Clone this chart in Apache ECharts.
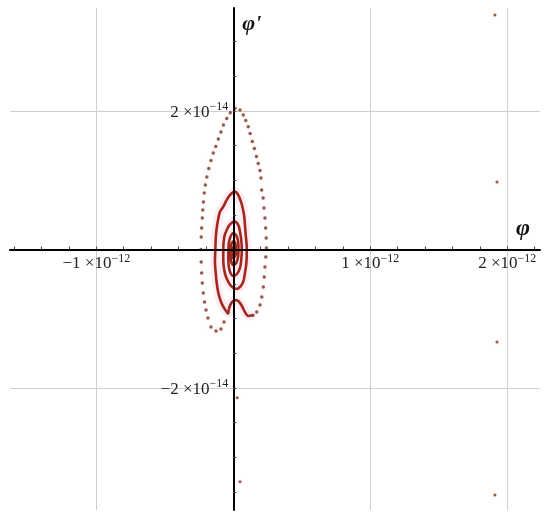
<!DOCTYPE html>
<html>
<head>
<meta charset="utf-8">
<style>
  html, body { margin: 0; padding: 0; background: #fff; }
  #chart { width: 550px; height: 516px; }
</style>
</head>
<body>
<div id="chart"></div>
<script src="https://cdn.jsdelivr.net/npm/echarts@6/dist/echarts.min.js"></script>
<script>
// phase portrait: φ in units of 1e-12, φ' in units of 1e-14

// outer, fast part of the trajectory (loose dots)
const outerX = [-0.039, -0.068, -0.090, -0.126, -0.163, -0.185, -0.199, -0.210, -0.219, -0.226,
  -0.231, -0.234, -0.236, -0.234, -0.231, -0.226, -0.223, -0.218, -0.212, -0.204,
  -0.193, -0.179, -0.163, -0.146, -0.128, -0.109, -0.090, -0.072, -0.048, -0.022,
  0.012, 0.049, 0.073, 0.091, 0.109, 0.123, 0.139, 0.154, 0.169, 0.182,
  0.195, 0.202, 0.207, 0.218, 0.224, 0.231, 0.236, 0.240, 0.242, 0.237,
  0.231, 0.226, 0.219, 0.208, 0.195, 0.171, 0.144]
const outerY = [-0.917, -1.047, -1.148, -1.177, -1.119, -0.989, -0.874, -0.758, -0.628, -0.484,
  -0.339, -0.181, 0, 0.181, 0.310, 0.455, 0.570, 0.686, 0.816, 0.931,
  1.047, 1.170, 1.285, 1.394, 1.487, 1.596, 1.697, 1.798, 1.892, 1.974,
  2.039, 2.014, 1.942, 1.863, 1.773, 1.675, 1.560, 1.458, 1.343, 1.242,
  1.141, 1.032, 0.859, 0.744, 0.599, 0.455, 0.310, 0.166, 0.022, -0.108,
  -0.253, -0.397, -0.542, -0.686, -0.801, -0.903, -0.949]

// slow inner spiral (dense dots, reads as a solid curve)
const spiralX = [0.144, 0.109, 0.085, 0.061, 0.036, 0.012, -0.009, -0.028, -0.039, -0.066,
  -0.090, -0.109, -0.121, -0.128, -0.134, -0.131, -0.128, -0.121, -0.109, -0.097,
  -0.073, -0.048, -0.024, 0.012, 0.036, 0.056, 0.069, 0.080, 0.085, 0.091,
  0.098, 0.098, 0.094, 0.085, 0.073, 0.049, 0.023, -0.017, -0.050, -0.066,
  -0.073, -0.073, -0.066, -0.048, -0.024, 0.009, 0.036, 0.049, 0.058, 0.062,
  0.058, 0.049, 0.027, -0.002, -0.028, -0.036, -0.036, -0.026, 0.001, 0.027,
  0.038, 0.036, 0.021, -0.002, -0.018, -0.020, -0.011, 0.005, 0.018, 0.018,
  0.001, -0.009, -0.005, 0.004, 0.007]
const spiralY = [-0.949, -0.960, -0.903, -0.809, -0.744, -0.729, -0.758, -0.830, -0.917, -0.849,
  -0.754, -0.628, -0.484, -0.339, -0.181, 0, 0.166, 0.310, 0.451, 0.546,
  0.618, 0.715, 0.787, 0.835, 0.787, 0.690, 0.595, 0.474, 0.354, 0.209,
  0.036, -0.094, -0.224, -0.339, -0.465, -0.542, -0.570, -0.527, -0.412, -0.296,
  -0.152, 0, 0.181, 0.282, 0.361, 0.404, 0.354, 0.253, 0.137, 0,
  -0.152, -0.267, -0.354, -0.383, -0.296, -0.152, 0.007, 0.152, 0.238, 0.181,
  0.051, -0.094, -0.195, -0.224, -0.137, 0, 0.094, 0.123, 0.051, -0.065,
  -0.123, -0.051, 0.029, 0.036, -0.014]

// isolated points far from the spiral
const strayX = [1.910, 1.925, 1.925, 1.910, 0.029, 0.049]
const strayY = [3.386, 0.975, -1.336, -3.545, -2.140, -3.353]

// ticks
const xLabelTicks = [-1, 1, 2]
const yLabelTicks = [-2, 2]
const xMinorTicks = [-1.6, -1.4, -1.2, -1, -0.8, -0.6, -0.4, -0.2, 0.2, 0.4, 0.6, 0.8, 1,
  1.2, 1.4, 1.6, 1.8, 2, 2.2]
const yMinorTicks = [-3.5, -3, -2.5, -2, -1.5, -1, -0.5, 0.5, 1, 1.5, 2, 2.5, 3]

const pairs = (xs, ys) => xs.map((x, i) => [x, ys[i]])

const serif = "'Liberation Serif', 'DejaVu Serif', serif"
const tickLabel = exp => v =>
  `{m|${v < 0 ? '−' : ''}${Math.abs(v)} ×10}{s|${exp}}`
const labelRich = {
  m: { fontFamily: serif, fontSize: 17, color: '#222', lineHeight: 20, verticalAlign: 'bottom' },
  s: { fontFamily: serif, fontSize: 12, color: '#222', lineHeight: 12, verticalAlign: 'top' }
}

const dotColor = '#74361c'

const chart = echarts.init(document.getElementById('chart'))

chart.setOption({
  animation: false,
  backgroundColor: '#fff',
  grid: { left: 10, right: 10, top: 8, bottom: 6, containLabel: false, outerBoundsMode: 'none' },
  xAxis: {
    type: 'value',
    min: -1.63,
    max: 2.239,
    z: 10,
    // axis crosses at φ' = 0: shift it up from the grid bottom
    offset: -260.5,
    name: 'φ',
    nameLocation: 'end',
    nameGap: -17,
    nameTextStyle: {
      fontFamily: serif, fontStyle: 'italic', fontWeight: 'bold', fontSize: 24, color: '#111',
      align: 'center', verticalAlign: 'bottom', padding: [0, 0, 9, 0]
    },
    axisLine: { onZero: false, lineStyle: { color: '#000', width: 2 } },
    axisTick: { inside: true, length: 3, customValues: xMinorTicks, lineStyle: { color: '#444' } },
    axisLabel: { customValues: xLabelTicks, margin: 3, formatter: tickLabel('−12'), rich: labelRich },
    splitLine: { show: false }
  },
  yAxis: {
    type: 'value',
    min: -3.762,
    max: 3.487,
    z: 10,
    offset: -223.3,
    name: "φ'",
    nameLocation: 'end',
    nameGap: -16,
    nameTextStyle: {
      fontFamily: serif, fontStyle: 'italic', fontWeight: 'bold', fontSize: 22, color: '#111',
      align: 'left', verticalAlign: 'middle', padding: [0, 0, 0, 9]
    },
    axisLine: { onZero: false, lineStyle: { color: '#000', width: 2 } },
    axisTick: { inside: true, length: 3, customValues: yMinorTicks, lineStyle: { color: '#444' } },
    axisLabel: { customValues: yLabelTicks, margin: 5, formatter: tickLabel('−14'), rich: labelRich },
    splitLine: { show: false }
  },
  series: [
    {
      // grid lines
      type: 'scatter',
      data: [],
      z: 0,
      silent: true,
      markLine: {
        z: 0,
        silent: true,
        symbol: 'none',
        label: { show: false },
        lineStyle: { color: '#cfcfcf', width: 1, type: 'solid' },
        data: [
          ...xLabelTicks.map(v => ({ xAxis: v })),
          ...yLabelTicks.map(v => ({ yAxis: v }))
        ]
      }
    },
    {
      // pink halo round the spiral
      type: 'line',
      data: pairs(spiralX, spiralY),
      smooth: 0.3,
      showSymbol: false,
      silent: true,
      lineStyle: { color: 'rgba(255, 175, 210, 0.25)', width: 9 },
      z: 1
    },
    {
      type: 'line',
      data: pairs(spiralX, spiralY),
      smooth: 0.3,
      showSymbol: false,
      lineStyle: { color: '#a0291b', width: 2.6 },
      z: 3
    },
    {
      type: 'scatter',
      data: pairs(outerX, outerY),
      symbolSize: 3.4,
      itemStyle: { color: dotColor, shadowBlur: 3, shadowColor: 'rgba(255, 160, 205, 0.5)' },
      z: 4
    },
    {
      type: 'scatter',
      data: pairs(strayX, strayY),
      symbolSize: 3,
      itemStyle: { color: dotColor, shadowBlur: 3, shadowColor: 'rgba(255, 160, 205, 0.5)' },
      z: 4
    }
  ]
})

window.addEventListener('resize', () => chart.resize())
</script>
</body>
</html>
